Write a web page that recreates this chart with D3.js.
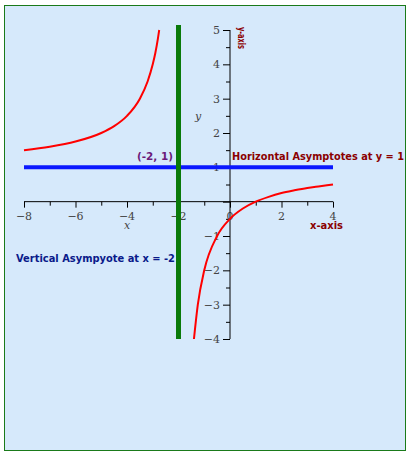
<!DOCTYPE html>
<html><head><meta charset="utf-8">
<script src="https://cdn.jsdelivr.net/npm/d3@7"></script>
<style>body{margin:0;background:#fff}</style>
</head><body>
<svg id="c" width="410" height="454"></svg>
<script>
// points
const leftX = [-8, -7, -6, -5, -4.5, -4, -3.5, -3.2, -3, -2.9, -2.8, -2.75];
const leftY = [1.5, 1.6, 1.75, 2, 2.2, 2.5, 3, 3.5, 4, 4.33, 4.75, 5];
const rightX = [-1.4, -1.25, -1, -0.5, 0, 0.5, 1, 1.5, 2, 2.5, 3, 3.5, 4];
const rightY = [-4, -3, -2, -1, -0.5, -0.2, 0, 0.14, 0.25, 0.33, 0.4, 0.45, 0.5];
const xTicks = [-8, -6, -4, -2, 0, 2, 4];
const yTicks = [-4, -3, -2, -1, 1, 2, 3, 4, 5];

const svg = d3.select('#c');
svg.append('rect').attr('x', 4.5).attr('y', 5.5).attr('width', 401).attr('height', 445)
  .attr('fill', '#d6e9fb').attr('stroke', '#1a7a1a');

const x = d3.scaleLinear().domain([-8, 4]).range([24, 333]);
const y = d3.scaleLinear().domain([-4, 5]).range([339, 30]);

const line = d3.line().x(d => x(d[0])).y(d => y(d[1])).curve(d3.curveMonotoneX);
const serif = 'DejaVu Serif, serif';

// axes
const xa = svg.append('g').attr('transform', `translate(0,${y(0)})`)
  .call(d3.axisBottom(x).tickValues(d3.range(-8, 4.01, 1)).tickSize(5).tickFormat(''));
xa.select('.domain').remove();
xa.append('line').attr('x1', x(-8)).attr('x2', x(4)).attr('stroke', '#000');
xa.selectAll('.tick line').attr('stroke', '#000').attr('y2', d => d % 2 === 0 ? 6 : 4);
xTicks.forEach(t => xa.append('text').attr('x', x(t)).attr('y', 18).attr('text-anchor', 'middle')
  .attr('font-family', serif).attr('font-size', 11).attr('fill', '#444')
  .text(t === 0 ? '0' : (t < 0 ? '\u2212' + (-t) : t)));

const ya = svg.append('g').attr('transform', `translate(${x(0)},0)`)
  .call(d3.axisLeft(y).tickValues(d3.range(-4, 5.01, 0.5)).tickSize(4).tickFormat(''));
ya.select('.domain').remove();
ya.append('line').attr('y1', y(-4)).attr('y2', y(5)).attr('stroke', '#000');
ya.selectAll('.tick line').attr('stroke', '#000').attr('x2', d => Number.isInteger(d) ? -7 : -4);
yTicks.forEach(t => ya.append('text').attr('x', -10).attr('y', y(t) + 4).attr('text-anchor', 'end')
  .attr('font-family', serif).attr('font-size', 11).attr('fill', '#444')
  .text(t < 0 ? '\u2212' + (-t) : t));

// asymptotes
svg.append('line').attr('x1', x(-8)).attr('x2', x(4)).attr('y1', y(1)).attr('y2', y(1))
  .attr('stroke', '#0a18ff').attr('stroke-width', 4);
svg.append('line').attr('x1', x(-2)).attr('x2', x(-2)).attr('y1', 25).attr('y2', y(-4))
  .attr('stroke', '#0a7a0a').attr('stroke-width', 5);

// curve
[[leftX, leftY], [rightX, rightY]].forEach(([xs, ys]) =>
  svg.append('path').datum(xs.map((v, i) => [v, ys[i]])).attr('d', line)
    .attr('fill', 'none').attr('stroke', '#ff0000').attr('stroke-width', 2));

// labels
const lbl = (tx, px, py, col, len) => svg.append('text').attr('x', px).attr('y', py)
  .attr('fill', col).attr('font-size', 11).attr('font-weight', 'bold')
  .attr('font-family', 'DejaVu Sans, sans-serif')
  .attr('textLength', len).attr('lengthAdjust', 'spacingAndGlyphs').text(tx);
lbl('(-2, 1)', 137, 160, '#6b1a7a', 36);
lbl('Horizontal Asymptotes at y = 1', 232, 160, '#8b0000', 172);
lbl('x-axis', 310, 229, '#8b0000', 33);
lbl('Vertical Asympyote at x = -2', 16, 262, '#0a1a8a', 159);
svg.append('text').attr('x', 124).attr('y', 229).attr('font-family', serif).attr('font-style', 'italic')
  .attr('font-size', 11).attr('fill', '#444').text('x');
svg.append('text').attr('x', 195).attr('y', 120).attr('font-family', serif).attr('font-style', 'italic')
  .attr('font-size', 11).attr('fill', '#444').text('y');
svg.append('text').attr('transform', 'translate(238,27) rotate(90)').attr('fill', '#8b0000')
  .attr('font-size', 11).attr('font-weight', 'bold').attr('font-family', 'DejaVu Sans, sans-serif')
  .attr('textLength', 22).attr('lengthAdjust', 'spacingAndGlyphs').text('y-axis');
</script>
</body></html>
